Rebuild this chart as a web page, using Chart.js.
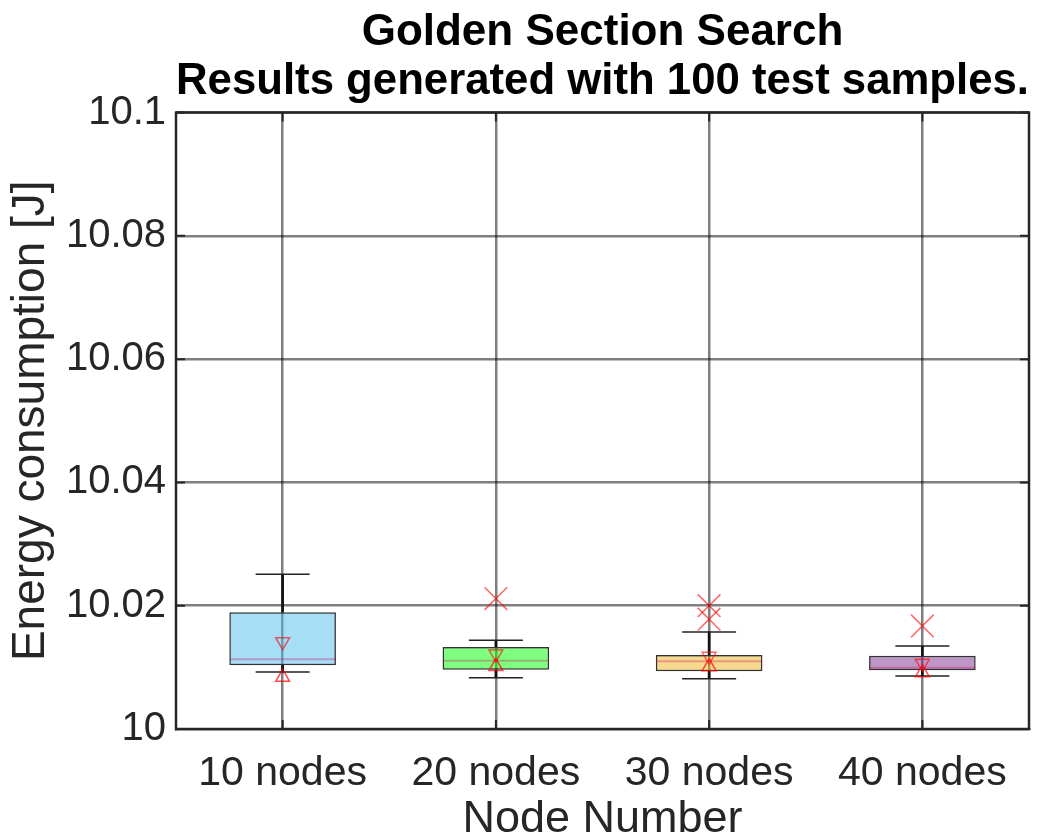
<!DOCTYPE html>
<html>
<head>
<meta charset="utf-8">
<title>Golden Section Search</title>
<script src="https://cdn.jsdelivr.net/npm/chart.js@4"></script>
<style>
  html, body { margin: 0; padding: 0; background: #fff; }
  #wrap { width: 1043px; height: 840px; }
</style>
</head>
<body>
<div id="wrap"><canvas id="chart" width="1043" height="840"></canvas></div>
<script>
// categories
const categories = ["10 nodes", "20 nodes", "30 nodes", "40 nodes"];

// box stats
const q1 = [10.01034, 10.00963, 10.00936, 10.00952];
const q3 = [10.01894, 10.01331, 10.01201, 10.01190];
const medians = [10.01131, 10.01109, 10.01099, 10.00995];
const whiskerLow = [10.00925, 10.00833, 10.00817, 10.00860];
const whiskerHigh = [10.02511, 10.01440, 10.01575, 10.01347];
const notchHigh = [10.01417, 10.01218, 10.01180, 10.01066];
const notchLow = [10.00839, 10.01012, 10.01010, 10.00914];

// outliers
const outlierCats = ["20 nodes", "30 nodes", "30 nodes", "40 nodes"];
const outlierValues = [10.02116, 10.02000, 10.01781, 10.01672];

// y axis
const yMin = 10, yMax = 10.1, yStep = 0.02;

const boxColors = [
  "rgba(77,190,238,0.5)",
  "rgba(0,255,0,0.5)",
  "rgba(237,177,32,0.5)",
  "rgba(126,47,142,0.5)"
];

const FONT = "'Liberation Sans', Helvetica, Arial, sans-serif";

// black frame round the plot area, with inward tick marks
const frame = {
  id: "frame",
  afterDatasetsDraw(chart) {
    const a = chart.chartArea;
    const ctx = chart.ctx;
    const xs = chart.scales.x, ys = chart.scales.y;
    ctx.save();
    ctx.strokeStyle = "#262626";
    ctx.lineWidth = 2;
    ctx.beginPath();
    ys.ticks.forEach((t, i) => {
      const py = ys.getPixelForTick(i);
      ctx.moveTo(a.left, py); ctx.lineTo(a.left + 9, py);
      ctx.moveTo(a.right, py); ctx.lineTo(a.right - 9, py);
    });
    xs.ticks.forEach((t, i) => {
      const px = xs.getPixelForTick(i);
      ctx.moveTo(px, a.bottom); ctx.lineTo(px, a.bottom - 9);
      ctx.moveTo(px, a.top); ctx.lineTo(px, a.top + 9);
    });
    ctx.stroke();
    ctx.lineWidth = 2.5;
    ctx.strokeRect(a.left, a.top, a.right - a.left, a.bottom - a.top);
    ctx.restore();
  }
};

const pointSet = (data, opts) => Object.assign({
  type: "line",
  data: data,
  showLine: false,
  pointBackgroundColor: "rgba(0,0,0,0)",
  pointBorderWidth: 1.5
}, opts);

new Chart(document.getElementById("chart").getContext("2d"), {
  type: "bar",
  data: {
    labels: categories,
    datasets: [
      pointSet(outlierCats.map((c, i) => ({ x: c, y: outlierValues[i] })), {
        order: 0, pointStyle: "crossRot", pointRadius: 16,
        pointBorderColor: "rgba(255,0,0,0.6)", pointBorderWidth: 1.5
      }),
      pointSet(notchHigh, {
        order: 1, pointStyle: "triangle", pointRotation: 180, pointRadius: 8,
        pointBorderColor: "rgba(255,0,0,0.6)"
      }),
      pointSet(notchLow, {
        order: 1, pointStyle: "triangle", pointRadius: 8,
        pointBorderColor: "rgba(255,0,0,0.7)"
      }),
      pointSet(medians, {
        order: 2, pointStyle: "line", pointRadius: 53,
        pointBorderColor: "rgba(200,0,90,0.3)", pointBorderWidth: 2
      }),
      pointSet(whiskerHigh, {
        order: 3, pointStyle: "line", pointRadius: 27,
        pointBorderColor: "#222", pointBorderWidth: 1.5
      }),
      pointSet(whiskerLow, {
        order: 3, pointStyle: "line", pointRadius: 27,
        pointBorderColor: "#222", pointBorderWidth: 1.5
      }),
      {
        order: 4,
        data: q1.map((v, i) => [v, q3[i]]),
        backgroundColor: boxColors,
        borderColor: "#333",
        borderWidth: 1.5,
        borderSkipped: false,
        grouped: false,
        barPercentage: 0.5,
        categoryPercentage: 1
      },
      {
        order: 5,
        data: whiskerLow.map((v, i) => [v, q1[i]]),
        backgroundColor: "#111",
        barThickness: 2,
        grouped: false
      },
      {
        order: 5,
        data: q3.map((v, i) => [v, whiskerHigh[i]]),
        backgroundColor: "#111",
        barThickness: 2,
        grouped: false
      }
    ]
  },
  options: {
    responsive: false,
    devicePixelRatio: 1,
    animation: false,
    layout: { autoPadding: false, padding: { left: 0, right: 14, top: 0, bottom: 0 } },
    plugins: {
      legend: { display: false },
      tooltip: { enabled: false },
      title: {
        display: true,
        fullSize: false,
        text: ["Golden Section Search", "Results generated with 100 test samples."],
        color: "#000",
        font: { family: FONT, size: 44, weight: "bold", lineHeight: 1.12 },
        padding: { top: 8, bottom: 6 }
      }
    },
    scales: {
      x: {
        grid: { offset: false, drawTicks: false, color: "rgba(0,0,0,0.5)", lineWidth: 2.5 },
        border: { display: true, color: "#262626", width: 2 },
        ticks: { color: "#262626", font: { family: FONT, size: 41 }, padding: 20, maxRotation: 0 },
        title: {
          display: true, text: "Node Number", color: "#262626",
          font: { family: FONT, size: 45, lineHeight: 0.9 }, padding: { top: 0, bottom: 0 }
        },
        afterFit(s) { s.height = 111; s.paddingLeft = 0; s.paddingRight = 0; }
      },
      y: {
        min: yMin, max: yMax,
        grid: { drawTicks: false, color: "rgba(0,0,0,0.5)", lineWidth: 2.5 },
        border: { display: true, color: "#262626", width: 2 },
        ticks: {
          stepSize: yStep, color: "#262626", padding: 10,
          font: { family: FONT, size: 40 },
          callback: v => String(Number(v.toFixed(2)))
        },
        title: {
          display: true, text: "Energy consumption [J]", color: "#262626",
          font: { family: FONT, size: 46 }, padding: { top: 4, bottom: 4 }
        },
        afterFit(s) { s.width = 176; }
      }
    }
  },
  plugins: [frame]
});
</script>
</body>
</html>
